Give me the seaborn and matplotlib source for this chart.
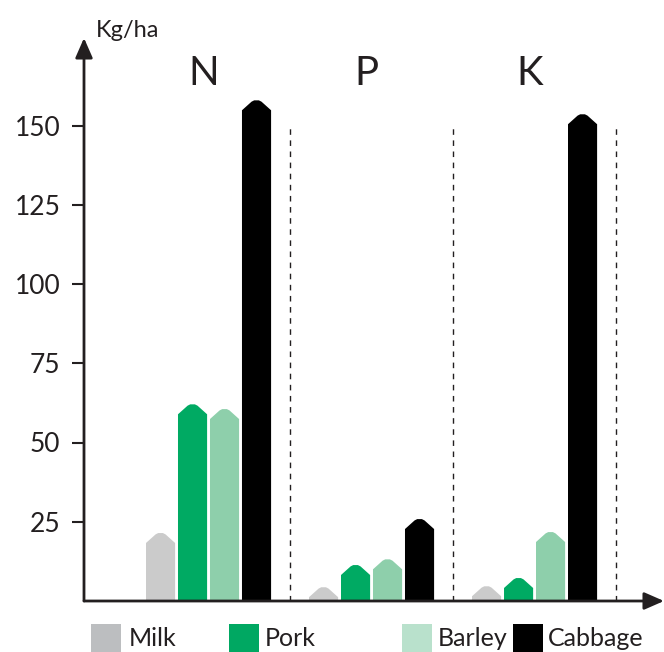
import pandas as pd
import seaborn as sns
import matplotlib.pyplot as plt
from matplotlib.patches import Polygon, Rectangle

# values (kg/ha)
nutrients = ['N', 'P', 'K']
sources = ['Milk', 'Pork', 'Barley', 'Cabbage']
milk = [21.5, 4.4, 4.7]
pork = [62.1, 11.4, 7.3]
barley = [60.6, 13.2, 21.8]
cabbage = [158.0, 25.9, 153.6]
yticks = [25, 50, 75, 100, 125, 150]

bar_colors = ['#cbcbcb', '#00aa63', '#8ecfab', '#000000']
legend_colors = ['#bcbec0', '#00a862', '#b9e1cc', '#000000']
ink = '#231f20'

rows = []
for src, vals in zip(sources, [milk, pork, barley, cabbage]):
    for nut, v in zip(nutrients, vals):
        rows.append({'nutrient': nut, 'source': src, 'value': v})
df = pd.DataFrame(rows)

sns.set_style('white')
plt.rcParams['font.family'] = ['Lato', 'DejaVu Sans']

fig = plt.figure(figsize=(6.64, 6.52), dpi=100)
ax = fig.add_axes([84 / 664, 1 - 601 / 652, 1 - 84 / 664, (601 - 38) / 652])

sns.barplot(data=df, x='nutrient', y='value', hue='source', order=nutrients,
            hue_order=sources, palette=bar_colors, saturation=1, width=0.785, gap=0.09,
            legend=False, errorbar=None, ax=ax)

# swap the plain rectangles for bars with a chamfered, rounded top
for rect in list(ax.patches):
    x0 = rect.get_x()
    w = rect.get_width()
    h = rect.get_height()
    fc = rect.get_facecolor()
    rect.remove()
    c = min(3.2, h * 0.75)
    pts = [(x0, 0), (x0, h - c),
           (x0 + 0.33 * w, h - 0.15 * c), (x0 + 0.42 * w, h - 0.02 * c),
           (x0 + 0.58 * w, h - 0.02 * c), (x0 + 0.67 * w, h - 0.15 * c),
           (x0 + w, h - c), (x0 + w, 0)]
    ax.add_patch(Polygon(pts, closed=True, facecolor=fc, edgecolor='none'))

ax.set_xlim(-0.764, 2.794)
ax.set_ylim(0, (601 - 38) / 3.17)

# dashed separators between the groups
for xs in [0.5, 1.5, 2.5]:
    ax.plot([xs, xs], [0, 150], color=ink, lw=1, ls=(0, (4, 4)))

for i, nut in enumerate(nutrients):
    ax.text(i - 0.03, 166.5, nut, ha='center', va='center', fontsize=29, color=ink)

for s in ax.spines.values():
    s.set_visible(False)
ax.annotate('', xy=(0, 1), xytext=(0, 0), xycoords='axes fraction',
            arrowprops=dict(arrowstyle='-|>,head_length=0.8,head_width=0.35',
                            mutation_scale=15, lw=2, color=ink, shrinkA=0, shrinkB=0))
ax.annotate('', xy=(1, 0), xytext=(0, 0), xycoords='axes fraction',
            arrowprops=dict(arrowstyle='-|>,head_length=0.8,head_width=0.35',
                            mutation_scale=15, lw=2, color=ink, shrinkA=0, shrinkB=0))

ax.set_yticks(yticks)
ax.set_xticks([])
ax.tick_params(axis='y', direction='out', length=9, width=1.5, pad=8,
               color=ink, labelcolor=ink, labelsize=19, left=True)
ax.set_xlabel('')
ax.set_ylabel('')

fig.text(96 / 664, 1 - 37 / 652, 'Kg/ha', ha='left', va='baseline', fontsize=17, color=ink)

# legend along the bottom edge
sq_x = [91, 229, 402, 513]
txt_x = [129, 265, 438, 548]
for sx, tx, col, lab in zip(sq_x, txt_x, legend_colors, sources):
    fig.add_artist(Rectangle((sx / 664, 0), 30 / 664, 28 / 652, transform=fig.transFigure,
                             facecolor=col, edgecolor='none'))
    fig.text(tx / 664, 1 - 638 / 652, lab, ha='left', va='center', fontsize=18, color=ink)

fig.savefig('out.png', dpi=100)
